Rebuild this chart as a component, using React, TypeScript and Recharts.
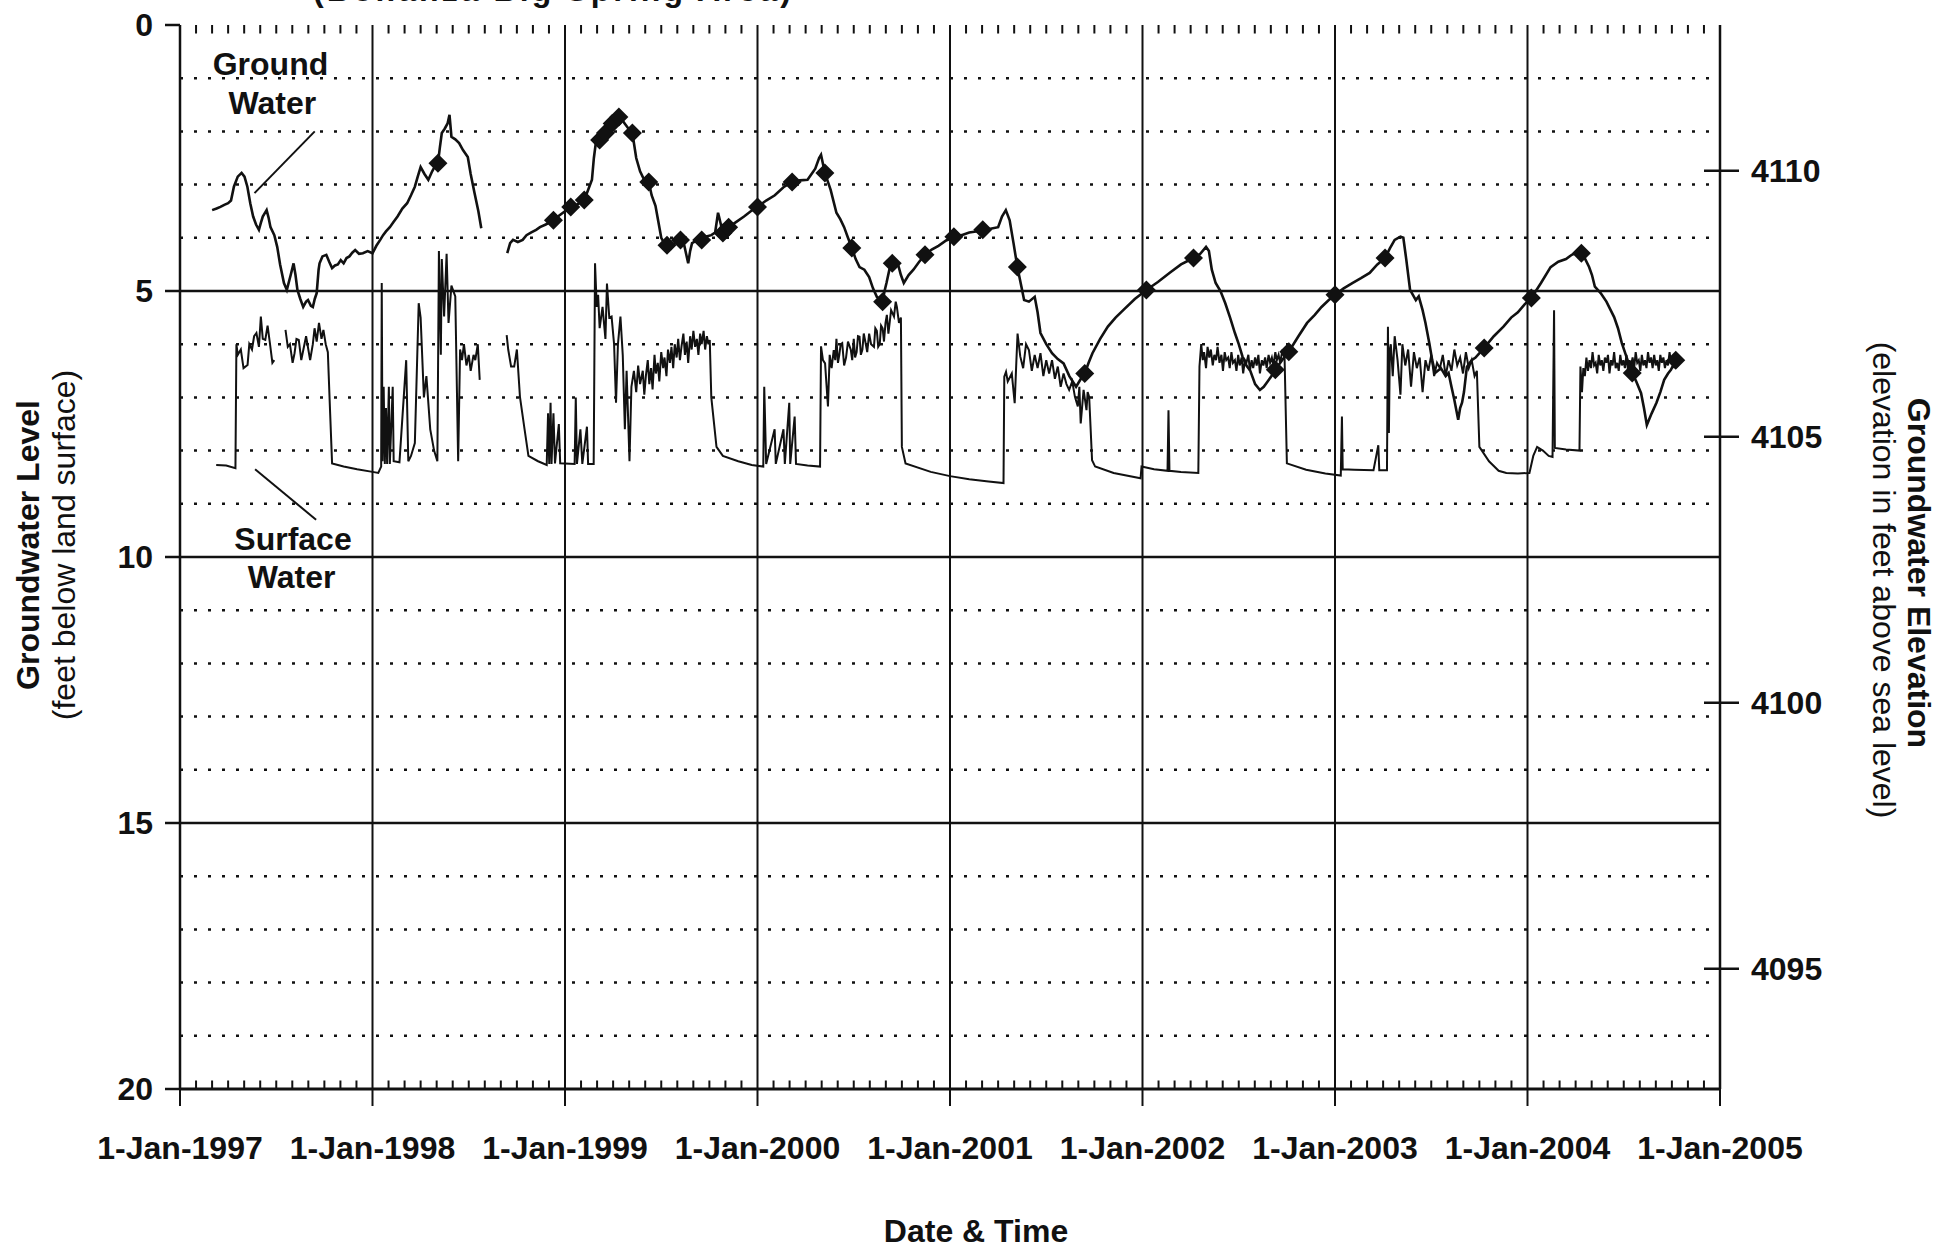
import React from 'react';
import { ComposedChart, Line, Scatter, XAxis, YAxis, ReferenceLine, ReferenceDot } from 'recharts';

const FONT = '"Liberation Sans", Arial, Helvetica, sans-serif';
const INK = '#111';

// x is a decimal year, y is feet below land surface
const yearTicks = [1997, 1998, 1999, 2000, 2001, 2002, 2003, 2004, 2005];
const depthTicks = [0, 5, 10, 15, 20];
const majorDepths = [5, 10, 15];
const minorDepths = [1, 2, 3, 4, 6, 7, 8, 9, 11, 12, 13, 14, 16, 17, 18, 19];
const elevationTicks = [4095, 4100, 4105, 4110];
const LAND_SURFACE = 4112.74;

type Row = [number, number];

// groundwater recorder, before and after the mid-1998 outage
const groundEarly: Row[] = [
  [1997.167, 3.48], [1997.19, 3.45], [1997.21, 3.42], [1997.23, 3.38], [1997.25, 3.35], [1997.265, 3.3],
  [1997.28, 3.04], [1997.3, 2.85], [1997.32, 2.78], [1997.335, 2.85], [1997.35, 3.04], [1997.365, 3.35],
  [1997.38, 3.6], [1997.395, 3.75], [1997.41, 3.85], [1997.42, 3.72], [1997.43, 3.6], [1997.45, 3.48],
  [1997.46, 3.62], [1997.47, 3.8], [1997.49, 3.95], [1997.505, 4.17], [1997.52, 4.5], [1997.54, 4.85],
  [1997.555, 4.98], [1997.575, 4.7], [1997.59, 4.48], [1997.6, 4.7], [1997.61, 4.98], [1997.625, 5.15],
  [1997.64, 5.3], [1997.655, 5.2], [1997.665, 5.17], [1997.68, 5.28], [1997.69, 5.3], [1997.7, 5.15],
  [1997.71, 5.04], [1997.72, 4.6], [1997.725, 4.48], [1997.74, 4.35], [1997.76, 4.32], [1997.775, 4.45],
  [1997.79, 4.57], [1997.805, 4.52], [1997.82, 4.5], [1997.835, 4.42], [1997.85, 4.48], [1997.865, 4.38],
  [1997.88, 4.35], [1997.895, 4.28], [1997.91, 4.23], [1997.93, 4.3], [1997.95, 4.29], [1997.975, 4.25],
  [1998.0, 4.29], [1998.02, 4.15], [1998.04, 4.04], [1998.055, 3.95], [1998.07, 3.88], [1998.09, 3.8],
  [1998.11, 3.7], [1998.13, 3.6], [1998.155, 3.45], [1998.18, 3.35], [1998.2, 3.2], [1998.22, 3.04],
  [1998.235, 2.85], [1998.25, 2.67], [1998.27, 2.8], [1998.29, 2.91], [1998.31, 2.75], [1998.325, 2.65],
  [1998.34, 2.6], [1998.35, 2.3], [1998.36, 2.03], [1998.375, 1.95], [1998.39, 1.85], [1998.4, 1.69],
  [1998.41, 2.1], [1998.43, 2.15], [1998.45, 2.22], [1998.47, 2.35], [1998.495, 2.48], [1998.51, 2.8],
  [1998.53, 3.16], [1998.55, 3.5], [1998.565, 3.82],
];

const groundLate: Row[] = [
  [1998.7, 4.29], [1998.715, 4.1], [1998.73, 4.04], [1998.755, 4.08], [1998.78, 4.04], [1998.8, 3.95],
  [1998.825, 3.9], [1998.85, 3.85], [1998.87, 3.8], [1998.9, 3.75], [1998.94, 3.67], [1998.97, 3.58],
  [1999.0, 3.5], [1999.03, 3.42], [1999.06, 3.38], [1999.1, 3.29], [1999.12, 3.1], [1999.14, 2.91],
  [1999.15, 2.5], [1999.16, 2.22], [1999.18, 2.16], [1999.21, 2.03], [1999.23, 1.9], [1999.245, 1.79],
  [1999.26, 1.7], [1999.27, 1.66], [1999.29, 1.75], [1999.31, 1.85], [1999.33, 1.95], [1999.35, 2.03],
  [1999.37, 2.5], [1999.39, 2.75], [1999.41, 2.9], [1999.435, 2.95], [1999.45, 3.2], [1999.47, 3.4],
  [1999.485, 3.7], [1999.5, 4.0], [1999.515, 4.1], [1999.53, 4.14], [1999.55, 4.2], [1999.57, 4.1],
  [1999.585, 4.05], [1999.6, 4.04], [1999.62, 4.15], [1999.64, 4.48], [1999.65, 4.25], [1999.66, 4.1],
  [1999.685, 4.05], [1999.71, 4.04], [1999.73, 3.98], [1999.76, 3.95], [1999.78, 3.9], [1999.795, 3.53],
  [1999.8, 3.6], [1999.82, 3.91], [1999.85, 3.8], [1999.89, 3.7], [1999.93, 3.6], [1999.965, 3.5],
  [2000.0, 3.42], [2000.045, 3.3], [2000.09, 3.2], [2000.135, 3.05], [2000.18, 2.95], [2000.22, 2.92],
  [2000.26, 2.91], [2000.3, 2.7], [2000.32, 2.5], [2000.33, 2.44], [2000.35, 2.78], [2000.38, 3.1],
  [2000.41, 3.53], [2000.43, 3.65], [2000.45, 3.8], [2000.47, 4.0], [2000.49, 4.19], [2000.51, 4.4],
  [2000.53, 4.55], [2000.555, 4.6], [2000.58, 4.74], [2000.6, 4.95], [2000.62, 5.11], [2000.65, 5.2],
  [2000.66, 5.0], [2000.67, 4.85], [2000.685, 4.6], [2000.7, 4.48], [2000.715, 4.45], [2000.73, 4.5],
  [2000.745, 4.7], [2000.76, 4.85], [2000.785, 4.7], [2000.81, 4.6], [2000.84, 4.45], [2000.87, 4.32],
  [2000.905, 4.22], [2000.94, 4.15], [2000.98, 4.05], [2001.02, 3.98], [2001.06, 3.95], [2001.1, 3.9],
  [2001.135, 3.88], [2001.17, 3.85], [2001.21, 3.83], [2001.25, 3.8], [2001.27, 3.6], [2001.29, 3.48],
  [2001.31, 3.67], [2001.33, 4.1], [2001.35, 4.55], [2001.37, 4.9], [2001.385, 5.17], [2001.41, 5.2],
  [2001.44, 5.11], [2001.455, 5.4], [2001.47, 5.79], [2001.5, 6.0], [2001.53, 6.17], [2001.56, 6.28],
  [2001.59, 6.36], [2001.62, 6.6], [2001.655, 6.8], [2001.68, 6.65], [2001.7, 6.55], [2001.72, 6.35],
  [2001.74, 6.17], [2001.78, 5.9], [2001.82, 5.67], [2001.86, 5.5], [2001.9, 5.36], [2001.96, 5.15],
  [2002.02, 4.98], [2002.08, 4.83], [2002.14, 4.66], [2002.2, 4.5], [2002.265, 4.38], [2002.3, 4.3],
  [2002.33, 4.17], [2002.345, 4.25], [2002.36, 4.6], [2002.38, 4.85], [2002.405, 5.0], [2002.43, 5.23],
  [2002.455, 5.5], [2002.48, 5.79], [2002.5, 6.0], [2002.52, 6.24], [2002.54, 6.4], [2002.56, 6.5],
  [2002.585, 6.75], [2002.61, 6.86], [2002.63, 6.8], [2002.65, 6.7], [2002.67, 6.6], [2002.69, 6.48],
  [2002.725, 6.3], [2002.76, 6.14], [2002.81, 5.85], [2002.855, 5.6], [2002.895, 5.45], [2002.93, 5.3],
  [2002.965, 5.18], [2003.0, 5.07], [2003.045, 4.95], [2003.09, 4.85], [2003.135, 4.76], [2003.18, 4.66],
  [2003.22, 4.5], [2003.26, 4.38], [2003.285, 4.2], [2003.31, 4.04], [2003.34, 3.98], [2003.355, 4.0],
  [2003.37, 4.4], [2003.39, 4.98], [2003.42, 5.17], [2003.435, 5.1], [2003.455, 5.36], [2003.47, 5.6],
  [2003.49, 5.98], [2003.505, 6.3], [2003.52, 6.54], [2003.55, 6.45], [2003.575, 6.6], [2003.59, 6.54],
  [2003.605, 6.8], [2003.62, 7.05], [2003.64, 7.42], [2003.65, 7.2], [2003.66, 7.1], [2003.67, 6.9],
  [2003.685, 6.43], [2003.71, 6.3], [2003.73, 6.25], [2003.775, 6.07], [2003.825, 5.85], [2003.875, 5.67],
  [2003.915, 5.5], [2003.95, 5.4], [2003.985, 5.25], [2004.02, 5.13], [2004.07, 4.85], [2004.12, 4.55],
  [2004.16, 4.45], [2004.2, 4.4], [2004.23, 4.32], [2004.255, 4.28], [2004.28, 4.29], [2004.3, 4.4],
  [2004.32, 4.55], [2004.335, 4.7], [2004.35, 4.92], [2004.38, 5.04], [2004.41, 5.2], [2004.45, 5.49],
  [2004.47, 5.7], [2004.49, 5.98], [2004.52, 6.3], [2004.544, 6.54], [2004.565, 6.7], [2004.59, 6.92],
  [2004.605, 7.2], [2004.62, 7.52], [2004.645, 7.3], [2004.67, 7.1], [2004.69, 6.9], [2004.71, 6.67],
  [2004.73, 6.55], [2004.745, 6.48], [2004.77, 6.3],
];

// manual tape-down measurements (diamonds)
const handMeasurements: Row[] = [
  [1998.34, 2.6], [1998.94, 3.67], [1999.03, 3.42], [1999.1, 3.29], [1999.18, 2.16], [1999.21, 2.03],
  [1999.245, 1.85], [1999.28, 1.73], [1999.35, 2.03], [1999.435, 2.95], [1999.53, 4.14], [1999.6, 4.04],
  [1999.71, 4.04], [1999.82, 3.91], [1999.85, 3.8], [2000.0, 3.42], [2000.18, 2.95], [2000.35, 2.78],
  [2000.49, 4.19], [2000.65, 5.2], [2000.7, 4.48], [2000.87, 4.32], [2001.02, 3.98], [2001.17, 3.85],
  [2001.35, 4.55], [2001.7, 6.55], [2002.02, 4.98], [2002.265, 4.38], [2002.69, 6.48], [2002.76, 6.14],
  [2003.0, 5.07], [2003.26, 4.38], [2003.775, 6.07], [2004.02, 5.13], [2004.28, 4.29], [2004.544, 6.54],
  [2004.77, 6.3],
];

// surface-water stage, three recorded stretches
const surfaceSpring1997: Row[] = [
  [1997.188, 8.27], [1997.24, 8.28], [1997.288, 8.33], [1997.293, 6.0], [1997.3, 6.2], [1997.316, 6.1],
  [1997.33, 6.45], [1997.351, 6.39], [1997.36, 6.0], [1997.374, 6.1], [1997.385, 5.85], [1997.397, 5.79],
  [1997.41, 6.05], [1997.42, 5.48], [1997.43, 5.9], [1997.443, 5.92], [1997.455, 5.65], [1997.467, 5.98],
  [1997.48, 6.35], [1997.49, 6.3],
];

const surface1997to1998: Row[] = [
  [1997.548, 5.73], [1997.56, 6.05], [1997.571, 6.0], [1997.585, 6.35], [1997.595, 6.17], [1997.605, 5.9],
  [1997.617, 5.92], [1997.63, 6.3], [1997.641, 6.1], [1997.655, 5.85], [1997.676, 6.3], [1997.69, 6.0],
  [1997.699, 5.7], [1997.71, 5.95], [1997.722, 5.6], [1997.735, 5.9], [1997.745, 5.73], [1997.757, 6.0],
  [1997.768, 6.15], [1997.78, 7.3], [1997.79, 8.24], [1997.85, 8.3], [1997.92, 8.35], [1998.0, 8.4],
  [1998.03, 8.42], [1998.045, 8.3], [1998.048, 4.85], [1998.052, 8.2], [1998.058, 6.8], [1998.064, 8.25],
  [1998.07, 7.2], [1998.076, 8.25], [1998.085, 6.8], [1998.09, 8.25], [1998.105, 6.8], [1998.11, 8.2],
  [1998.14, 8.22], [1998.175, 6.3], [1998.186, 8.2], [1998.2, 8.1], [1998.22, 7.86], [1998.24, 5.23],
  [1998.25, 5.5], [1998.267, 7.0], [1998.28, 6.6], [1998.3, 7.6], [1998.32, 8.0], [1998.337, 8.2],
  [1998.345, 4.25], [1998.355, 6.2], [1998.36, 4.4], [1998.372, 5.48], [1998.385, 4.3], [1998.395, 5.6],
  [1998.41, 4.9], [1998.43, 5.1], [1998.445, 8.2], [1998.455, 6.1], [1998.465, 6.3], [1998.475, 6.0],
  [1998.488, 6.4], [1998.5, 6.2], [1998.51, 6.5], [1998.525, 6.2], [1998.534, 6.3], [1998.547, 6.0],
  [1998.557, 6.67],
];

const surfaceLate: Row[] = [
  [1998.697, 5.83], [1998.705, 6.1], [1998.72, 6.42], [1998.736, 6.42], [1998.75, 6.1], [1998.766, 6.99],
  [1998.79, 7.6], [1998.81, 8.1], [1998.86, 8.2], [1998.905, 8.27], [1998.912, 7.3], [1998.918, 8.25],
  [1998.925, 7.1], [1998.93, 8.25], [1998.94, 7.3], [1998.948, 8.24], [1998.968, 7.5], [1998.975, 8.24],
  [1999.05, 8.25], [1999.056, 7.0], [1999.062, 8.25], [1999.08, 7.6], [1999.09, 8.25], [1999.114, 7.55],
  [1999.12, 8.25], [1999.149, 8.25], [1999.156, 4.48], [1999.165, 5.3], [1999.172, 5.07], [1999.18, 5.7],
  [1999.195, 5.3], [1999.21, 5.9], [1999.218, 4.86], [1999.23, 5.5], [1999.242, 5.48], [1999.255, 6.0],
  [1999.265, 7.1], [1999.275, 6.0], [1999.288, 5.48], [1999.3, 6.2], [1999.311, 7.6], [1999.32, 6.5],
  [1999.335, 8.2], [1999.345, 6.8], [1999.358, 6.5], [1999.37, 6.9], [1999.38, 6.4], [1999.39, 6.75],
  [1999.404, 6.5], [1999.412, 6.95], [1999.42, 6.6], [1999.43, 6.3], [1999.438, 6.75], [1999.447, 6.45],
  [1999.455, 6.85], [1999.465, 6.2], [1999.472, 6.55], [1999.482, 6.35], [1999.49, 6.7], [1999.5, 6.15],
  [1999.51, 6.45], [1999.517, 6.25], [1999.527, 6.6], [1999.535, 6.1], [1999.545, 6.35], [1999.553, 6.05],
  [1999.562, 6.45], [1999.57, 6.0], [1999.58, 6.25], [1999.588, 5.9], [1999.597, 6.3], [1999.605, 6.05],
  [1999.615, 5.8], [1999.623, 6.2], [1999.632, 5.95], [1999.64, 6.35], [1999.65, 5.85], [1999.658, 6.1],
  [1999.667, 5.75], [1999.676, 6.05], [1999.685, 5.9], [1999.693, 6.2], [1999.702, 5.8], [1999.71, 6.0],
  [1999.72, 5.75], [1999.728, 6.1], [1999.737, 5.85], [1999.745, 6.0], [1999.752, 5.92], [1999.76, 7.0],
  [1999.787, 7.93], [1999.82, 8.1], [1999.9, 8.2], [1999.97, 8.27], [2000.03, 8.3], [2000.035, 6.8],
  [2000.045, 8.25], [2000.089, 7.6], [2000.095, 8.25], [2000.135, 7.6], [2000.142, 8.25], [2000.165, 7.1],
  [2000.17, 8.25], [2000.193, 7.36], [2000.2, 8.25], [2000.26, 8.28], [2000.325, 8.3], [2000.33, 6.04],
  [2000.34, 6.3], [2000.351, 6.36], [2000.366, 7.17], [2000.375, 6.2], [2000.385, 6.45], [2000.396, 6.11],
  [2000.404, 6.3], [2000.41, 5.9], [2000.418, 6.35], [2000.425, 6.2], [2000.432, 6.0], [2000.44, 5.98],
  [2000.45, 6.4], [2000.46, 6.25], [2000.47, 5.95], [2000.485, 6.11], [2000.492, 6.3], [2000.5, 5.9],
  [2000.507, 6.25], [2000.515, 6.15], [2000.522, 5.85], [2000.53, 5.86], [2000.537, 6.2], [2000.545, 6.1],
  [2000.552, 5.8], [2000.56, 5.95], [2000.57, 6.15], [2000.58, 5.8], [2000.59, 6.0], [2000.605, 6.05],
  [2000.612, 5.7], [2000.62, 5.75], [2000.627, 6.05], [2000.635, 6.0], [2000.642, 5.65], [2000.65, 5.7],
  [2000.657, 5.95], [2000.665, 5.6], [2000.672, 5.45], [2000.68, 5.8], [2000.694, 5.36], [2000.709, 5.48],
  [2000.718, 5.2], [2000.724, 5.3], [2000.735, 5.6], [2000.745, 5.5], [2000.75, 7.93], [2000.769, 8.24],
  [2000.9, 8.4], [2001.0, 8.48], [2001.1, 8.54], [2001.2, 8.58], [2001.278, 8.61], [2001.282, 6.61],
  [2001.291, 6.52], [2001.3, 6.7], [2001.321, 6.55], [2001.336, 7.11], [2001.345, 6.3], [2001.351, 5.8],
  [2001.365, 6.23], [2001.38, 6.45], [2001.395, 6.0], [2001.41, 6.11], [2001.425, 6.5], [2001.44, 6.2],
  [2001.455, 6.45], [2001.47, 6.17], [2001.485, 6.6], [2001.5, 6.3], [2001.515, 6.55], [2001.53, 6.3],
  [2001.545, 6.65], [2001.56, 6.42], [2001.575, 6.8], [2001.59, 6.55], [2001.605, 6.75], [2001.619, 6.86],
  [2001.635, 6.7], [2001.649, 6.99], [2001.664, 7.17], [2001.672, 6.8], [2001.679, 7.49], [2001.694, 6.86],
  [2001.709, 7.24], [2001.715, 6.9], [2001.723, 6.99], [2001.738, 8.18], [2001.754, 8.3], [2001.85, 8.42],
  [2001.99, 8.52], [2001.995, 8.3], [2002.06, 8.35], [2002.13, 8.38], [2002.135, 7.24], [2002.14, 8.38],
  [2002.2, 8.4], [2002.29, 8.42], [2002.296, 6.42], [2002.305, 6.0], [2002.313, 6.3], [2002.32, 6.15],
  [2002.33, 6.45], [2002.338, 6.05], [2002.347, 6.25], [2002.355, 6.1], [2002.365, 6.4], [2002.373, 6.2],
  [2002.382, 6.3], [2002.39, 6.05], [2002.4, 6.35], [2002.41, 6.2], [2002.418, 6.5], [2002.427, 6.15],
  [2002.435, 6.3], [2002.445, 6.25], [2002.453, 6.45], [2002.462, 6.15], [2002.47, 6.35], [2002.48, 6.3],
  [2002.488, 6.5], [2002.497, 6.2], [2002.505, 6.4], [2002.515, 6.25], [2002.523, 6.55], [2002.532, 6.3],
  [2002.54, 6.35], [2002.55, 6.2], [2002.558, 6.5], [2002.567, 6.3], [2002.575, 6.45], [2002.585, 6.25],
  [2002.593, 6.4], [2002.602, 6.2], [2002.61, 6.55], [2002.62, 6.3], [2002.628, 6.4], [2002.637, 6.25],
  [2002.645, 6.45], [2002.655, 6.2], [2002.663, 6.35], [2002.672, 6.25], [2002.68, 6.4], [2002.69, 6.15],
  [2002.698, 6.3], [2002.707, 6.2], [2002.715, 6.35], [2002.725, 6.15], [2002.738, 6.25], [2002.75, 8.24],
  [2002.85, 8.36], [2002.95, 8.43], [2003.03, 8.47], [2003.036, 7.36], [2003.04, 8.35], [2003.1, 8.36],
  [2003.2, 8.37], [2003.225, 7.9], [2003.23, 8.37], [2003.27, 8.37], [2003.275, 5.67], [2003.28, 7.67],
  [2003.285, 6.1], [2003.29, 6.0], [2003.3, 6.6], [2003.31, 5.85], [2003.325, 6.3], [2003.34, 6.95],
  [2003.35, 6.0], [2003.365, 6.4], [2003.38, 6.1], [2003.395, 6.8], [2003.41, 6.15], [2003.425, 6.45],
  [2003.44, 6.25], [2003.455, 6.9], [2003.47, 6.3], [2003.485, 6.5], [2003.5, 6.2], [2003.515, 6.6],
  [2003.53, 6.35], [2003.545, 6.45], [2003.56, 6.2], [2003.575, 6.6], [2003.59, 6.3], [2003.605, 6.5],
  [2003.62, 6.1], [2003.635, 6.4], [2003.65, 6.25], [2003.665, 6.55], [2003.68, 6.15], [2003.695, 6.45],
  [2003.71, 6.3], [2003.725, 6.6], [2003.737, 6.5], [2003.75, 7.93], [2003.8, 8.2], [2003.85, 8.38],
  [2003.89, 8.42], [2003.95, 8.43], [2004.01, 8.42], [2004.03, 8.1], [2004.05, 7.93], [2004.08, 8.0],
  [2004.11, 8.1], [2004.13, 8.12], [2004.138, 5.36], [2004.142, 7.95], [2004.2, 7.98], [2004.27, 8.0],
  [2004.275, 6.42], [2004.283, 6.9], [2004.29, 6.45], [2004.298, 6.6], [2004.306, 6.25], [2004.314, 6.5],
  [2004.322, 6.3], [2004.33, 6.45], [2004.338, 6.15], [2004.346, 6.4], [2004.354, 6.35], [2004.362, 6.55],
  [2004.37, 6.2], [2004.378, 6.4], [2004.386, 6.3], [2004.394, 6.5], [2004.402, 6.25], [2004.41, 6.35],
  [2004.418, 6.2], [2004.426, 6.55], [2004.434, 6.3], [2004.442, 6.4], [2004.45, 6.15], [2004.458, 6.45],
  [2004.466, 6.35], [2004.474, 6.5], [2004.482, 6.2], [2004.49, 6.4], [2004.498, 6.3], [2004.506, 6.45],
  [2004.514, 6.2], [2004.522, 6.5], [2004.53, 6.3], [2004.538, 6.4], [2004.546, 6.25], [2004.554, 6.45],
  [2004.562, 6.15], [2004.57, 6.35], [2004.578, 6.3], [2004.586, 6.5], [2004.594, 6.2], [2004.602, 6.4],
  [2004.61, 6.3], [2004.618, 6.45], [2004.626, 6.15], [2004.634, 6.35], [2004.642, 6.25], [2004.65, 6.45],
  [2004.658, 6.2], [2004.666, 6.4], [2004.674, 6.3], [2004.682, 6.5], [2004.69, 6.2], [2004.698, 6.35],
  [2004.706, 6.25], [2004.714, 6.45], [2004.722, 6.3], [2004.73, 6.4], [2004.738, 6.15], [2004.746, 6.35],
  [2004.754, 6.25], [2004.762, 6.45], [2004.77, 6.3], [2004.78, 6.4], [2004.79, 6.35],
];

type Pt = { t: number; d: number | null };

// stitch recorder stretches together with a null between them so the line breaks
function joinStretches(stretches: Row[][]): Pt[] {
  const out: Pt[] = [];
  stretches.forEach((rows, i) => {
    if (i > 0) {
      const prev = stretches[i - 1];
      out.push({ t: (prev[prev.length - 1][0] + rows[0][0]) / 2, d: null });
    }
    rows.forEach(([t, d]) => out.push({ t, d }));
  });
  return out;
}

const groundData = joinStretches([groundEarly, groundLate]);
const surfaceData = joinStretches([surfaceSpring1997, surface1997to1998, surfaceLate]);
const measuredData = handMeasurements.map(([t, d]) => ({ t, d }));

// monthly minor ticks along top and bottom edges
const monthTicks: number[] = [];
yearTicks.slice(0, -1).forEach((y) => {
  for (let m = 1; m < 12; m++) monthTicks.push(y + m / 12);
});

const boldText = { fontFamily: FONT, fontSize: 32, fontWeight: 700, fill: INK };

const Diamond = (props: any) => {
  const { cx, cy } = props;
  if (cx == null || cy == null) return null;
  const r = 9.5;
  return <polygon points={`${cx},${cy - r} ${cx + r},${cy} ${cx},${cy + r} ${cx - r},${cy}`} fill={INK} />;
};

const ElevTick = (props: any) => {
  const { x, y, payload } = props;
  return (
    <g>
      <line x1={x - 47} x2={x - 12} y1={y} y2={y} stroke={INK} strokeWidth={2.5} />
      <text x={x} y={y} dy="0.36em" textAnchor="start" style={boldText}>
        {payload.value}
      </text>
    </g>
  );
};

const note = (label: string) => (p: any) => (
  <text x={p.cx} y={p.cy} textAnchor="middle" dominantBaseline="central" style={boldText}>
    {label}
  </text>
);

const axisIds = { xAxisId: 'x', yAxisId: 'depth' };

export default function App() {
  return (
    <div style={{ position: 'absolute', left: 0, top: 0, width: 1955, height: 1255, background: '#fff' }}>
      <ComposedChart width={1955} height={1255} margin={{ top: 25, right: 0, bottom: 0, left: 0 }}>
        <XAxis
          xAxisId="x"
          dataKey="t"
          type="number"
          orientation="bottom"
          domain={[1997, 2005]}
          allowDataOverflow
          ticks={yearTicks}
          interval={0}
          height={166}
          tickSize={17}
          tickMargin={30}
          tickFormatter={(v: number) => `1-Jan-${v}`}
          tick={boldText}
          axisLine={{ stroke: INK, strokeWidth: 3 }}
          tickLine={{ stroke: INK, strokeWidth: 2 }}
        />
        <XAxis
          xAxisId="xt"
          dataKey="t"
          type="number"
          orientation="top"
          domain={[1997, 2005]}
          allowDataOverflow
          ticks={yearTicks}
          interval={0}
          height={0}
          tickSize={17}
          tick={false}
          axisLine={{ stroke: INK, strokeWidth: 3 }}
          tickLine={{ stroke: INK, strokeWidth: 2 }}
        />
        <YAxis
          yAxisId="depth"
          dataKey="d"
          type="number"
          domain={[0, 20]}
          reversed
          allowDataOverflow
          ticks={depthTicks}
          interval={0}
          width={180}
          tickSize={15}
          tickMargin={12}
          tick={boldText}
          axisLine={{ stroke: INK, strokeWidth: 2.5 }}
          tickLine={{ stroke: INK, strokeWidth: 2.5 }}
        />
        <YAxis
          yAxisId="elev"
          orientation="right"
          type="number"
          domain={[LAND_SURFACE - 20, LAND_SURFACE]}
          allowDataOverflow
          ticks={elevationTicks}
          interval={0}
          width={235}
          tickSize={19}
          tickMargin={12}
          tick={<ElevTick />}
          tickLine={false}
          axisLine={{ stroke: INK, strokeWidth: 2.5 }}
        />

        {minorDepths.map((v) => (
          <ReferenceLine key={`m${v}`} {...axisIds} y={v} stroke={INK} strokeWidth={2.5} strokeDasharray="3 11" />
        ))}
        {majorDepths.map((v) => (
          <ReferenceLine key={`M${v}`} {...axisIds} y={v} stroke={INK} strokeWidth={2.5} />
        ))}
        {yearTicks.slice(1, -1).map((v) => (
          <ReferenceLine key={`y${v}`} {...axisIds} x={v} stroke={INK} strokeWidth={2} />
        ))}
        {monthTicks.map((v) => (
          <ReferenceLine
            key={`tt${v}`}
            {...axisIds}
            segment={[{ x: v, y: 0 }, { x: v, y: 0.16 }]}
            stroke={INK}
            strokeWidth={2}
          />
        ))}
        {monthTicks.map((v) => (
          <ReferenceLine
            key={`bt${v}`}
            {...axisIds}
            segment={[{ x: v, y: 20 }, { x: v, y: 19.84 }]}
            stroke={INK}
            strokeWidth={2}
          />
        ))}

        {/* callouts */}
        <ReferenceLine {...axisIds} segment={[{ x: 1997.7, y: 2.0 }, { x: 1997.387, y: 3.16 }]} stroke={INK} strokeWidth={2} />
        <ReferenceLine {...axisIds} segment={[{ x: 1997.39, y: 8.35 }, { x: 1997.707, y: 9.3 }]} stroke={INK} strokeWidth={2} />
        <ReferenceDot {...axisIds} x={1997.47} y={0.73} r={0} shape={note('Ground')} />
        <ReferenceDot {...axisIds} x={1997.48} y={1.46} r={0} shape={note('Water')} />
        <ReferenceDot {...axisIds} x={1997.587} y={9.67} r={0} shape={note('Surface')} />
        <ReferenceDot {...axisIds} x={1997.58} y={10.37} r={0} shape={note('Water')} />

        <Line
          {...axisIds}
          data={surfaceData}
          dataKey="d"
          type="linear"
          stroke={INK}
          strokeWidth={2}
          dot={false}
          connectNulls={false}
          isAnimationActive={false}
        />
        <Line
          {...axisIds}
          data={groundData}
          dataKey="d"
          type="linear"
          stroke={INK}
          strokeWidth={2.6}
          dot={false}
          connectNulls={false}
          isAnimationActive={false}
        />
        <Scatter {...axisIds} data={measuredData} dataKey="d" shape={<Diamond />} isAnimationActive={false} />
      </ComposedChart>

      <svg
        width={1955}
        height={1255}
        style={{ position: 'absolute', left: 0, top: 0, pointerEvents: 'none' }}
      >
        <text x={552} y={1} textAnchor="middle" textLength={478} lengthAdjust="spacing" style={boldText}>
          (Bonanza Big Spring Area)
        </text>
        <text x={28} y={545} transform="rotate(-90 28 545)" textAnchor="middle" dominantBaseline="central" style={boldText}>
          Groundwater Level
        </text>
        <text
          x={64}
          y={545}
          transform="rotate(-90 64 545)"
          textAnchor="middle"
          dominantBaseline="central"
          style={{ ...boldText, fontWeight: 400 }}
        >
          (feet below land surface)
        </text>
        <text x={1919} y={573} transform="rotate(90 1919 573)" textAnchor="middle" dominantBaseline="central" style={boldText}>
          Groundwater Elevation
        </text>
        <text
          x={1884}
          y={580}
          transform="rotate(90 1884 580)"
          textAnchor="middle"
          dominantBaseline="central"
          style={{ ...boldText, fontWeight: 400 }}
        >
          (elevation in feet above sea level)
        </text>
        <text x={976} y={1231} textAnchor="middle" dominantBaseline="central" style={boldText}>
          Date &amp; Time
        </text>
      </svg>
    </div>
  );
}
